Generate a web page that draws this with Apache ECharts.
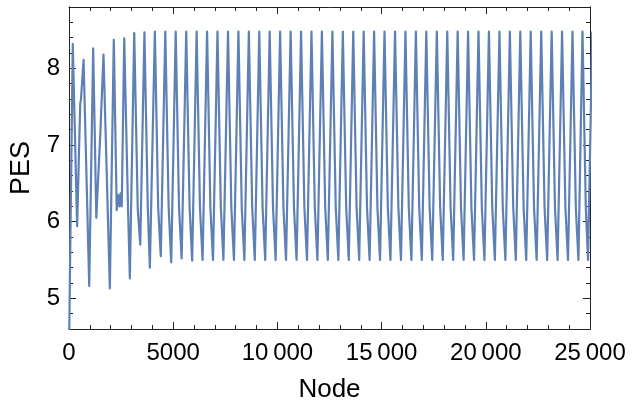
<!DOCTYPE html>
<html><head><meta charset="utf-8">
<script src="https://cdn.jsdelivr.net/npm/echarts@6/dist/echarts.min.js"></script>
<style>html,body{margin:0;padding:0;background:#fff}#c{width:640px;height:403px}</style>
</head><body><div id="c"></div>
<script>
// Node positions and PES values
const node = [
  0, 180, 390, 540, 570, 700, 970, 1160, 1310, 1350, 1500, 1530, 1655, 1960, 2150,
  2290, 2350, 2420, 2470, 2530, 2650, 2830, 2920, 3130, 3300, 3340, 3420, 3620, 3780, 3880,
  4120, 4280, 4405, 4620, 4780, 4905, 5120, 5280, 5405, 5625, 5785, 5910,
  6125, 6285, 6410, 6625, 6785, 6910, 7125, 7285, 7410, 7630, 7790, 7915,
  8130, 8290, 8415, 8630, 8790, 8915, 9130, 9290, 9415, 9630, 9790, 9915,
  10130, 10290, 10415, 10635, 10795, 10920, 11135, 11295, 11420, 11635, 11795, 11920,
  12135, 12295, 12420, 12640, 12800, 12925, 13140, 13300, 13425, 13640, 13800, 13925,
  14140, 14300, 14425, 14640, 14800, 14925, 15140, 15300, 15425, 15645, 15805, 15930,
  16145, 16305, 16430, 16645, 16805, 16930, 17145, 17305, 17430, 17650, 17810, 17935,
  18150, 18310, 18435, 18650, 18810, 18935, 19150, 19310, 19435, 19650, 19810, 19935,
  20150, 20310, 20435, 20655, 20815, 20940, 21155, 21315, 21440, 21655, 21815, 21940,
  22155, 22315, 22440, 22660, 22820, 22945, 23160, 23320, 23445, 23660, 23820, 23945,
  24160, 24320, 24445, 24640, 24800, 24905, 25110
];
const pes = [
  4.3, 8.32, 5.94, 7.55, 7.58, 8.11, 5.16, 8.26, 6.05, 6.03, 7.13, 7.15, 8.18, 5.13, 8.37,
  6.15, 6.35, 6.2, 6.37, 6.2, 8.39, 6.2, 5.26, 8.46, 6.16, 6.15, 5.70, 8.47, 6.2, 5.40,
  8.48, 6.18, 5.55, 8.48, 6.2, 5.47, 8.48, 6.18, 5.52, 8.48, 6.2, 5.49,
  8.48, 6.18, 5.5, 8.48, 6.18, 5.5, 8.48, 6.19, 5.5, 8.48, 6.18, 5.5,
  8.48, 6.18, 5.5, 8.48, 6.19, 5.5, 8.48, 6.18, 5.5, 8.48, 6.18, 5.5,
  8.48, 6.18, 5.5, 8.48, 6.19, 5.5, 8.48, 6.18, 5.5, 8.48, 6.18, 5.5,
  8.48, 6.18, 5.5, 8.48, 6.18, 5.5, 8.48, 6.19, 5.5, 8.48, 6.18, 5.5,
  8.48, 6.18, 5.5, 8.48, 6.18, 5.5, 8.48, 6.18, 5.5, 8.48, 6.19, 5.5,
  8.48, 6.18, 5.5, 8.48, 6.18, 5.5, 8.48, 6.18, 5.5, 8.48, 6.18, 5.5,
  8.48, 6.19, 5.5, 8.48, 6.18, 5.5, 8.48, 6.18, 5.5, 8.48, 6.18, 5.5,
  8.48, 6.18, 5.5, 8.48, 6.18, 5.5, 8.48, 6.19, 5.5, 8.48, 6.18, 5.5,
  8.48, 6.18, 5.5, 8.48, 6.18, 5.5, 8.48, 6.18, 5.5, 8.48, 6.18, 5.5,
  8.48, 6.18, 5.5, 8.48, 6.18, 5.5, 8.48
];
const xTicks = [0, 5000, 10000, 15000, 20000, 25000];
const xTickLabels = ['0', '5000', '10\u2009000', '15\u2009000', '20\u2009000', '25\u2009000'];
const yTicks = [5, 6, 7, 8];
const yTickLabels = ['5', '6', '7', '8'];

const FONT = 'Liberation Sans';
const frameColor = '#222';
const lineColor = '#5E81B5';

const chart = echarts.init(document.getElementById('c'), null, {renderer: 'canvas'});
const baseLine = {show: true, lineStyle: {color: frameColor, width: 1}};
const xMain = {
  type: 'value', min: 0, max: 25000, interval: 5000,
  axisLine: baseLine,
  axisTick: {show: true, inside: true, length: 7, lineStyle: {color: frameColor}},
  minorTick: {show: true, splitNumber: 5, length: 4, lineStyle: {color: frameColor}},
  splitLine: {show: false},
  axisLabel: {show: true, margin: 12, color: '#000', fontSize: 24, fontFamily: FONT,
    customValues: xTicks, formatter: v => xTickLabels[xTicks.indexOf(v)]}
};
const option = {
  animation: false,
  backgroundColor: '#fff',
  grid: {left: 69, right: 50, top: 7, bottom: 74, containLabel: false, outerBoundsMode: 'none'},
  xAxis: [
    Object.assign({}, xMain, {position: 'bottom', name: 'Node', nameLocation: 'middle', nameGap: 48,
      nameTextStyle: {color: '#000', fontSize: 26, fontFamily: FONT}}),
    Object.assign({}, xMain, {position: 'top', axisLabel: {show: false}})
  ],
  yAxis: [
    {type: 'value', min: 4.6, max: 8.8, position: 'left',
     name: 'PES', nameLocation: 'middle', nameGap: 34, nameRotate: 90,
     nameTextStyle: {color: '#000', fontSize: 27, fontFamily: FONT},
     axisLine: baseLine, splitLine: {show: false},
     axisTick: {show: true, inside: true, length: 7, customValues: yTicks, lineStyle: {color: frameColor}},
     axisLabel: {show: true, margin: 9, color: '#000', fontSize: 24, fontFamily: FONT,
       customValues: yTicks, formatter: v => yTickLabels[yTicks.indexOf(v)]}},
    {type: 'value', min: 4.6, max: 8.8, interval: 0.2, position: 'left',
     axisLine: baseLine, splitLine: {show: false},
     axisTick: {show: true, inside: true, length: 4, lineStyle: {color: frameColor}},
     axisLabel: {show: false}},
    {type: 'value', min: 4.6, max: 8.8, position: 'right',
     axisLine: baseLine, splitLine: {show: false},
     axisTick: {show: true, inside: true, length: 7, customValues: yTicks, lineStyle: {color: frameColor}},
     axisLabel: {show: false}},
    {type: 'value', min: 4.6, max: 8.8, interval: 0.2, position: 'right',
     axisLine: baseLine, splitLine: {show: false},
     axisTick: {show: true, inside: true, length: 4, lineStyle: {color: frameColor}},
     axisLabel: {show: false}}
  ],
  series: [{
    type: 'line', xAxisIndex: 0, yAxisIndex: 0,
    data: node.map((n, i) => [n, pes[i]]),
    showSymbol: false, symbol: 'none', clip: true,
    lineStyle: {color: lineColor, width: 2.2, join: 'round'},
    itemStyle: {color: lineColor}
  }]
};
chart.setOption(option);
</script>
</body></html>
